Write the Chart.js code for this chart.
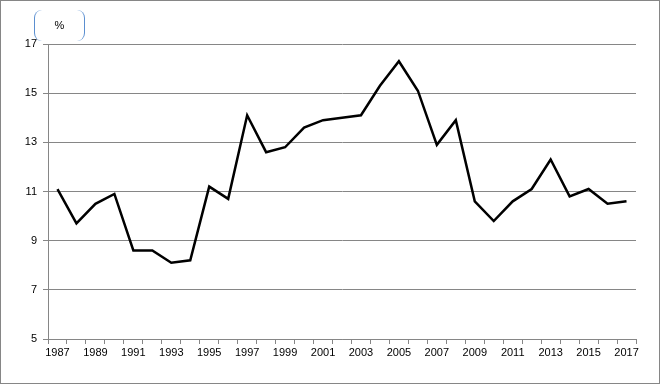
<!DOCTYPE html>
<html>
<head>
<meta charset="utf-8">
<script src="https://cdn.jsdelivr.net/npm/chart.js@4/dist/chart.umd.min.js"></script>
<style>
    html, body { margin: 0; padding: 0; background: #fff; }
    #wrap {
        position: relative;
        width: 660px;
        height: 384px;
        box-sizing: border-box;
        border: 1px solid #868686;
    }
    #chart { display: block; }
    #unit {
        position: absolute;
        left: 33px;
        top: 9px;
        width: 51px;
        height: 31px;
        box-sizing: border-box;
        border-left: 1.5px solid #5b8fd0;
        border-right: 1.5px solid #5b8fd0;
        border-radius: 8px;
        font: 11px "Liberation Sans", Arial, sans-serif;
        color: #000;
        text-align: center;
        line-height: 30px;
    }
</style>
</head>
<body>
<div id="wrap">
    <canvas id="chart" width="658" height="382"></canvas>
    <div id="unit">%</div>
</div>
<script>
// Years on the x axis
const years = [
    '1987', '1988', '1989', '1990', '1991', '1992', '1993', '1994', '1995', '1996',
    '1997', '1998', '1999', '2000', '2001', '2002', '2003', '2004', '2005', '2006',
    '2007', '2008', '2009', '2010', '2011', '2012', '2013', '2014', '2015', '2016', '2017'
];

// Percent values
const values = [
    11.1, 9.7, 10.5, 10.9, 8.6, 8.6, 8.1, 8.2, 11.2, 10.7,
    14.1, 12.6, 12.8, 13.6, 13.9, 14.0, 14.1, 15.3, 16.3, 15.1,
    12.9, 13.9, 10.6, 9.8, 10.6, 11.1, 12.3, 10.8, 11.1, 10.5, 10.6
];

// Y axis range
const yMin = 5;
const yMax = 17;
const yStep = 2;

const gridColor = '#868686';
const tickFont = { family: '"Liberation Sans", Arial, sans-serif', size: 11 };

const ctx = document.getElementById('chart').getContext('2d');
new Chart(ctx, {
    type: 'line',
    data: {
        labels: years,
        datasets: [
            {
                data: values,
                borderColor: '#000000',
                borderWidth: 2.5,
                pointRadius: 0,
                tension: 0,
                fill: false,
            },
        ],
    },
    options: {
        responsive: false,
        animation: false,
        layout: { padding: { left: 0, top: 43, right: 23, bottom: 0 } },
        plugins: {
            legend: { display: false },
            tooltip: { enabled: false },
        },
        scales: {
            x: {
                offset: true,
                grid: {
                    offset: true,
                    drawOnChartArea: false,
                    drawTicks: true,
                    tickLength: 5,
                    color: gridColor,
                },
                border: { color: gridColor },
                ticks: {
                    autoSkip: false,
                    maxRotation: 0,
                    color: '#000',
                    font: tickFont,
                    padding: 2,
                    callback: (val, i) => (i % 2 === 0 ? years[i] : ''),
                },
                afterFit: (scale) => { scale.height = 44; },
            },
            y: {
                min: yMin,
                max: yMax,
                grid: { color: gridColor, tickLength: 5 },
                border: { color: gridColor },
                ticks: {
                    stepSize: yStep,
                    color: '#000',
                    font: tickFont,
                    padding: 6,
                },
                afterFit: (scale) => { scale.width = 47; },
            },
        },
    },
});
</script>
</body>
</html>
